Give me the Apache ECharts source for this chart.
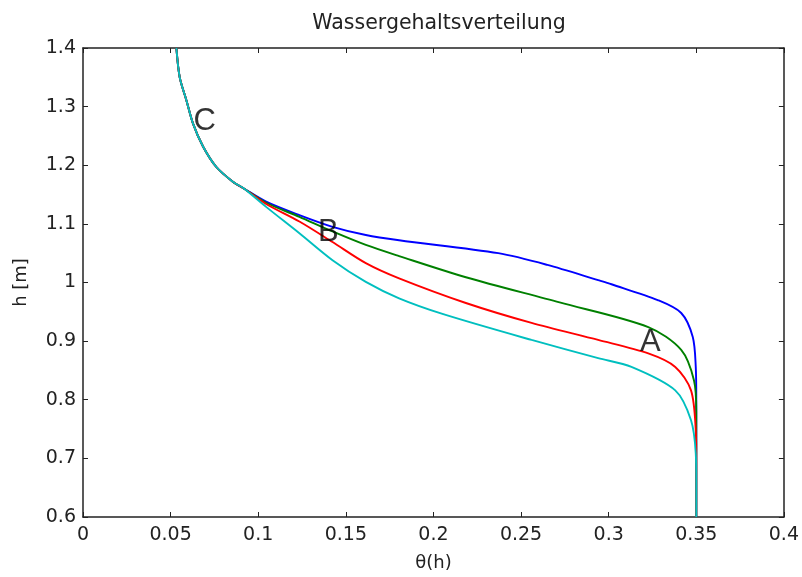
<!DOCTYPE html>
<html>
<head>
<meta charset="utf-8">
<script src="https://cdn.jsdelivr.net/npm/echarts@6/dist/echarts.min.js"></script>
<style>html,body{margin:0;padding:0;background:#fff}#c{width:802px;height:577px}</style>
</head>
<body>
<div id="c"></div>
<script>
// Shared upper branch [theta, h]
var commonPart = [[0.0533,1.40],[0.0552,1.35],[0.0590,1.311],[0.0628,1.271],[0.0685,1.232],[0.0761,1.197],[0.0855,1.172],[0.0920,1.160]];
var blueCurve = [[0.1045,1.138],[0.1235,1.115],[0.1424,1.095],[0.1614,1.081],[0.1804,1.072],[0.237,1.050],[0.265,1.030],[0.294,1.004],[0.3016,0.997],[0.328,0.970],[0.3414,0.948],[0.348,0.907],[0.3497,0.856],[0.350,0.80],[0.350,0.60]];
var greenCurve = [[0.1045,1.136],[0.1235,1.112],[0.1424,1.087],[0.1614,1.064],[0.1804,1.045],[0.2185,1.009],[0.272,0.966],[0.3226,0.924],[0.3414,0.885],[0.3487,0.833],[0.350,0.78],[0.350,0.60]];
var redCurve = [[0.1045,1.134],[0.1235,1.104],[0.1424,1.069],[0.1614,1.033],[0.1804,1.007],[0.2185,0.965],[0.256,0.931],[0.294,0.902],[0.3226,0.879],[0.338,0.856],[0.347,0.816],[0.3497,0.748],[0.350,0.70],[0.350,0.60]];
var cyanCurve = [[0.1045,1.129],[0.1235,1.084],[0.1424,1.038],[0.1614,1.001],[0.1804,0.973],[0.2056,0.946],[0.256,0.902],[0.294,0.871],[0.313,0.856],[0.338,0.816],[0.347,0.765],[0.3497,0.709],[0.350,0.66],[0.350,0.60]];
var curveNames = ['blue','green','red','cyan'];
var curveColors = ['#0000ff','#008000','#ff0000','#00bfbf'];
var curveLabels = [['C',0.0694,1.2754],['B',0.140,1.086],['A',0.3238,0.897]];
var xTicks = [0,0.05,0.1,0.15,0.2,0.25,0.3,0.35,0.4];
var yTicks = [0.6,0.7,0.8,0.9,1,1.1,1.2,1.3,1.4];

var font = 'DejaVu Sans';
var axisCol = '#222';
function mkAxis(pos, isX, showLabel) {
  return {
    type:'value', position:pos,
    min: isX ? xTicks[0] : yTicks[0], max: isX ? xTicks[xTicks.length-1] : yTicks[yTicks.length-1],
    interval: isX ? 0.05 : 0.1,
    axisLine:{show:true,onZero:false,lineStyle:{color:axisCol,width:1.5}},
    axisTick:{show:true,inside:true,length:5,lineStyle:{color:axisCol,width:1}},
    axisLabel:{show:showLabel,color:'#222',fontFamily:font,fontSize:19,margin:isX?9:7},
    splitLine:{show:false}
  };
}
var xb = mkAxis('bottom',true,true);
xb.name = 'θ(h)'; xb.nameLocation='middle'; xb.nameGap=37;
xb.nameTextStyle = {fontFamily:font,fontSize:18,color:'#222'};
var xt = mkAxis('top',true,false);
var yl = mkAxis('left',false,true);
yl.name = 'h [m]'; yl.nameLocation='middle'; yl.nameGap=53;
yl.nameTextStyle = {fontFamily:font,fontSize:18,color:'#222'};
var yr = mkAxis('right',false,false);

var lists = [blueCurve, greenCurve, redCurve, cyanCurve];
var series = [];
for (var i=0;i<4;i++){
  series.push({
    type:'line', name:curveNames[i], xAxisIndex:0, yAxisIndex:0,
    data: commonPart.concat(lists[i]), showSymbol:false, smooth:0.3,
    lineStyle:{color:curveColors[i],width:1.9}, z: 2+i, silent:true
  });
}
series.push({
  type:'scatter', xAxisIndex:0, yAxisIndex:0, symbolSize:0, silent:true, z:10,
  data: curveLabels.map(function(l){return {value:[l[1],l[2]], name:l[0]};}),
  label:{show:true,position:'inside',formatter:'{b}',fontFamily:'Liberation Sans',fontSize:31,color:'#000'}
});

var chart = echarts.init(document.getElementById('c'));
chart.setOption({
  animation:false,
  backgroundColor:'#fff',
  title:{text:'Wassergehaltsverteilung',left:434,textAlign:'center',top:8,
    textStyle:{fontFamily:font,fontSize:20.5,fontWeight:'normal',color:'#222'}},
  grid:{left:83,right:16,top:48,bottom:60,containLabel:false},
  xAxis:[xb,xt],
  yAxis:[yl,yr],
  series:series
});
</script>
</body>
</html>
